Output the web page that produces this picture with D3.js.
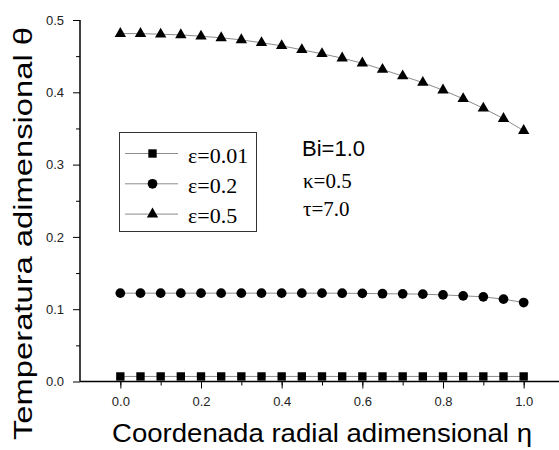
<!DOCTYPE html>
<html>
<head>
<meta charset="utf-8">
<script src="https://cdnjs.cloudflare.com/ajax/libs/d3/7.8.5/d3.min.js"></script>
<style>
  body { margin: 0; background: #fff; }
  svg { display: block; }
  .tick text { font-family: "Liberation Sans", Arial, sans-serif; font-size: 13px; fill: #222; }
</style>
</head>
<body>
<script>
// radial coordinate, 21 stations
var eta = [0, 0.05, 0.1, 0.15, 0.2, 0.25, 0.3, 0.35, 0.4, 0.45, 0.5,
           0.55, 0.6, 0.65, 0.7, 0.75, 0.8, 0.85, 0.9, 0.95, 1.0];

var theta001 = [0.007, 0.007, 0.007, 0.007, 0.007, 0.007, 0.007, 0.007, 0.007, 0.007, 0.007,
                0.007, 0.007, 0.007, 0.007, 0.007, 0.007, 0.007, 0.007, 0.007, 0.007];
var theta02 = [0.1222, 0.1222, 0.1222, 0.1222, 0.1222, 0.1222, 0.1222, 0.1222, 0.1222, 0.1222, 0.1222,
               0.1221, 0.1219, 0.1214, 0.1212, 0.1208, 0.1198, 0.1185, 0.1171, 0.1139, 0.1092];
var theta05 = [0.4812, 0.4812, 0.4803, 0.4794, 0.4776, 0.4753, 0.4725, 0.4685, 0.4643, 0.4588, 0.4533,
               0.4472, 0.4403, 0.4315, 0.4225, 0.4135, 0.403, 0.391, 0.378, 0.3635, 0.347];

var seriesNames = ["\u03b5=0.01", "\u03b5=0.2", "\u03b5=0.5"];
var xTicks = [0, 0.2, 0.4, 0.6, 0.8, 1.0];
var yTicks = [0, 0.1, 0.2, 0.3, 0.4, 0.5];
var notes = ["Bi=1.0", "\u03ba=0.5", "\u03c4=7.0"];

var SANS = "'Liberation Sans', Arial, sans-serif";
var SERIF = "'Liberation Serif', 'Times New Roman', serif";

var width = 559, height = 450;
var svg = d3.select("body").append("svg")
  .attr("width", width)
  .attr("height", height);

var x = d3.scaleLinear().domain([-0.1, 1.1]).range([80, 564]);
var y = d3.scaleLinear().domain([0, 0.5]).range([381.5, 20]);

var shapes = [d3.symbolSquare, d3.symbolCircle, d3.symbolTriangle];
var sizes = [70, 74, 56];
var series = [theta001, theta02, theta05].map(function(v, i) {
  return {name: seriesNames[i], shape: shapes[i], size: sizes[i],
          pts: eta.map(function(e, j) { return [e, v[j]]; })};
});

// minor ticks first, majors drawn over them
svg.append("g")
  .attr("transform", "translate(0," + y(0) + ")")
  .call(d3.axisBottom(x).tickValues(d3.range(0, 1.01, 0.1)).tickSize(4).tickFormat(""))
  .call(g => g.select(".domain").remove());
svg.append("g")
  .attr("transform", "translate(" + x(-0.1) + ",0)")
  .call(d3.axisLeft(y).tickValues(d3.range(0.05, 0.5, 0.1)).tickSize(4).tickFormat(""))
  .call(g => g.select(".domain").remove());

var xAxis = svg.append("g")
  .attr("transform", "translate(0," + y(0) + ")")
  .call(d3.axisBottom(x).tickValues(xTicks).tickSize(7).tickPadding(8).tickFormat(d3.format(".1f")));
xAxis.select(".domain").attr("d", "M" + x(-0.1) + ",0H" + width).attr("stroke-width", 1.5);

var yAxis = svg.append("g")
  .attr("transform", "translate(" + x(-0.1) + ",0)")
  .call(d3.axisLeft(y).tickValues(yTicks).tickSize(7).tickPadding(9).tickFormat(d3.format(".1f")));
yAxis.select(".domain").attr("d", "M0," + y(0) + "V" + y(0.5)).attr("stroke-width", 1.5);

// curves and markers
var line = d3.line().x(d => x(d[0])).y(d => y(d[1]));
series.forEach(function(s) {
  svg.append("path")
    .attr("d", line(s.pts))
    .attr("fill", "none")
    .attr("stroke", "#8c8c8c")
    .attr("stroke-width", 1);
  svg.selectAll(null).data(s.pts).enter().append("path")
    .attr("transform", d => "translate(" + x(d[0]) + "," + y(d[1]) + ")")
    .attr("d", d3.symbol().type(s.shape).size(s.size))
    .attr("fill", "#000");
});

// legend
var lg = svg.append("g");
lg.append("rect")
  .attr("x", 119.5).attr("y", 132.5)
  .attr("width", 137).attr("height", 99)
  .attr("fill", "#fff").attr("stroke", "#333").attr("stroke-width", 1);
var rows = lg.selectAll("g.row").data(series).enter().append("g")
  .attr("class", "row")
  .attr("transform", (d, i) => "translate(0," + (153.5 + i * 30.3) + ")");
rows.append("line")
  .attr("x1", 125).attr("x2", 178)
  .attr("stroke", "#8c8c8c").attr("stroke-width", 1);
rows.append("path")
  .attr("transform", "translate(152.5,0)")
  .attr("d", d => d3.symbol().type(d.shape).size(d.size)())
  .attr("fill", "#000");
rows.append("text")
  .style("font-family", SERIF)
  .style("font-size", "22px")
  .attr("x", 188).attr("y", 9)
  .text(d => d.name);

// parameter notes
svg.append("text")
  .style("font-family", SANS)
  .style("font-size", "22px")
  .attr("x", 302).attr("y", 156)
  .text(notes[0]);
svg.selectAll(null).data(notes.slice(1)).enter().append("text")
  .style("font-family", SERIF)
  .style("font-size", "21px")
  .attr("x", 303).attr("y", (d, i) => 187.5 + i * 28)
  .text(d => d);

// axis titles
svg.append("text")
  .style("font-family", SANS)
  .style("font-size", "26.5px")
  .attr("x", 322).attr("y", 441.5)
  .attr("text-anchor", "middle")
  .attr("textLength", 420)
  .attr("lengthAdjust", "spacingAndGlyphs")
  .text("Coordenada radial adimensional \u03b7");
svg.append("text")
  .style("font-family", SANS)
  .style("font-size", "26.5px")
  .attr("transform", "translate(32,233.5) rotate(-90)")
  .attr("text-anchor", "middle")
  .attr("textLength", 413)
  .attr("lengthAdjust", "spacingAndGlyphs")
  .text("Temperatura adimensional \u03b8");
</script>
</body>
</html>
